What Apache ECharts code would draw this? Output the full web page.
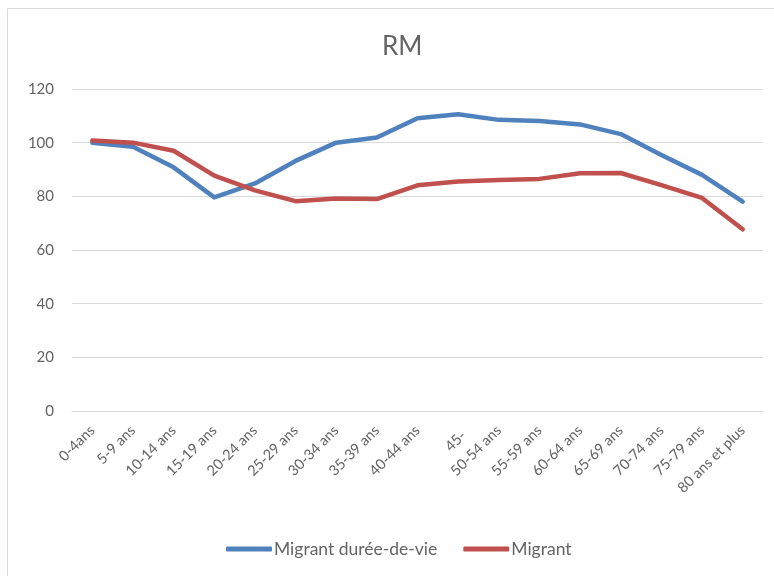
<!DOCTYPE html>
<html>
<head>
<meta charset="utf-8">
<script src="https://cdn.jsdelivr.net/npm/echarts@6/dist/echarts.min.js"></script>
<style>
html,body{margin:0;padding:0;background:#fff;}
#chart{width:774px;height:576px;}
</style>
</head>
<body>
<div id="chart"></div>
<script>
const categories = ['0-4ans','5-9 ans','10-14 ans','15-19 ans','20-24 ans','25-29 ans','30-34 ans','35-39 ans','40-44 ans','\n45-','50-54 ans','55-59 ans','60-64 ans','65-69 ans','70-74 ans','75-79 ans','80 ans et plus'];
const migrantDureeDeVie = [100, 98.5, 90.8, 79.6, 84.8, 93.2, 100, 101.9, 109.1, 110.6, 108.5, 108.1, 106.8, 103.2, 95.4, 88, 78];
const migrant = [100.8, 100, 97, 87.7, 82.2, 78.2, 79.2, 79, 84.1, 85.5, 86.1, 86.5, 88.6, 88.7, 84.2, 79.4, 67.7];
const yTicks = [0, 20, 40, 60, 80, 100, 120];

const FONT = 'Lato, "Open Sans", sans-serif';
const TEXT = '#646464';
const chart = echarts.init(document.getElementById('chart'));
chart.setOption({
  backgroundColor: '#ffffff',
  animation: false,
  graphic: [{
    type: 'rect',
    shape: { x: 7.5, y: 8.5, width: 800, height: 600 },
    style: { fill: 'none', stroke: '#D9D9D9', lineWidth: 1 },
    silent: true
  }],
  title: {
    text: 'RM',
    left: 377,
    top: 29,
    textStyle: { color: TEXT, fontSize: 26, fontWeight: 'normal', fontFamily: FONT }
  },
  legend: {
    bottom: 13,
    left: 221,
    itemWidth: 46,
    itemHeight: 5,
    itemGap: 26,
    icon: 'roundRect',
    textStyle: { color: TEXT, fontSize: 17.5, fontFamily: FONT, padding: [0, 0, 0, -3] },
    data: ['Migrant durée-de-vie', 'Migrant']
  },
  grid: { left: 72, right: 11, top: 89, bottom: 165, containLabel: false },
  xAxis: {
    type: 'category',
    data: categories,
    boundaryGap: true,
    axisLine: { show: true, lineStyle: { color: '#D9D9D9' } },
    axisTick: { show: false },
    axisLabel: {
      interval: 0,
      rotate: 45,
      margin: 17,
      color: TEXT,
      fontSize: 14.5,
      fontFamily: FONT
    }
  },
  yAxis: {
    type: 'value',
    min: yTicks[0],
    max: yTicks[yTicks.length - 1],
    interval: 20,
    axisLine: { show: false },
    axisTick: { show: false },
    axisLabel: { color: TEXT, fontSize: 15, fontFamily: FONT, margin: 18 },
    splitLine: { lineStyle: { color: '#D9D9D9', width: 1 } }
  },
  series: [
    {
      name: 'Migrant durée-de-vie',
      type: 'line',
      data: migrantDureeDeVie,
      symbol: 'none',
      lineStyle: { color: '#4F81BD', width: 4.5, cap: 'round', join: 'round' },
      itemStyle: { color: '#4F81BD' }
    },
    {
      name: 'Migrant',
      type: 'line',
      data: migrant,
      symbol: 'none',
      lineStyle: { color: '#C0504D', width: 4.5, cap: 'round', join: 'round' },
      itemStyle: { color: '#C0504D' }
    }
  ]
});
</script>
</body>
</html>
